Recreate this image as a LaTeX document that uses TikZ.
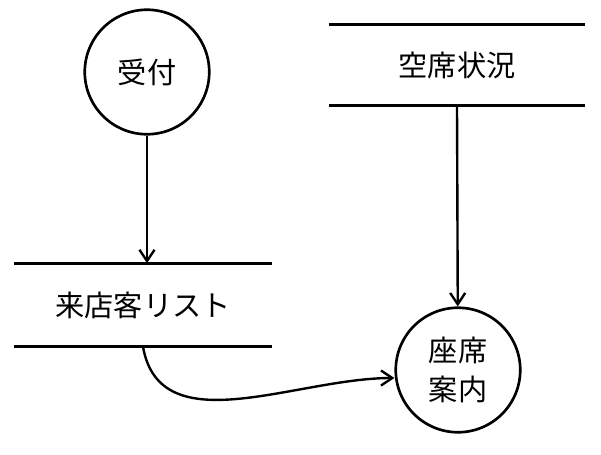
\documentclass[tikz,border=0pt]{standalone}
\usepackage{fontspec}
\newfontfamily\cjk{Noto Sans CJK JP}
\usetikzlibrary{positioning,arrows.meta}
\begin{document}
\begin{tikzpicture}[
    x=0.0265cm, y=-0.0265cm,
    every node/.style={font=\cjk\fontsize{22}{28}\selectfont},
    process/.style={circle, draw, line width=2pt, minimum size=3.3cm, inner sep=0pt, align=center},
    store/.style={rectangle, minimum height=2.15cm, inner sep=0pt},
    storeline/.style={line width=2pt},
    arrow/.style={-{Straight Barb[length=3mm,width=4mm]}, line width=1.8pt}
]
\useasboundingbox (0,0) rectangle (601,454);

% Processes
\node[process] (uketsuke) at (147,72) {受付};
\node[process, font=\cjk\fontsize{22}{30}\selectfont] (annai) at (458,370) {座席\\案内};

% Data stores
\node[store, minimum width=6.75cm] (kuuseki) at (457,65) {空席状況};
\node[store, minimum width=6.8cm, minimum height=2.2cm] (raiten) at (143,305) {来店客リスト};
\draw[storeline] (kuuseki.north west) -- (kuuseki.north east);
\draw[storeline] (kuuseki.south west) -- (kuuseki.south east);
\draw[storeline] (raiten.north west) -- (raiten.north east);
\draw[storeline] (raiten.south west) -- (raiten.south east);

% Flows
\draw[arrow] (uketsuke) -- (uketsuke |- raiten.north);
\draw[arrow] (kuuseki.south) -- (annai);
\draw[arrow] (raiten.south) to[out=-80, in=180] (annai.west |- 0,378);

\end{tikzpicture}
\end{document}
